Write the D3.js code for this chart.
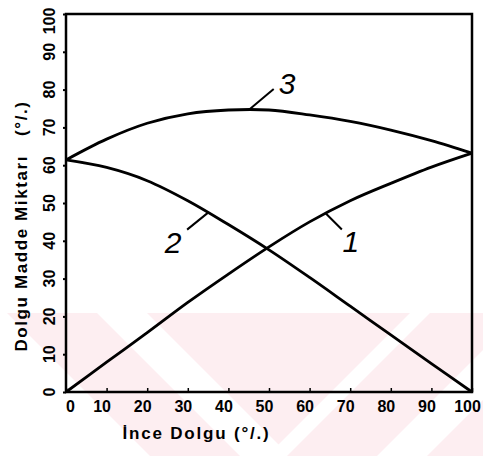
<!DOCTYPE html>
<html><head><meta charset="utf-8">
<script src="https://cdn.jsdelivr.net/npm/d3@7"></script>
<style>html,body{margin:0;padding:0;background:#fff;}svg{display:block}</style>
</head><body><svg id="c" width="483" height="456"></svg>
<script>
// ---- data ----
const xValues = [0,10,20,30,40,50,60,70,80,90,100];
const series1 = [0,7.9,15.7,23.7,31.2,38.4,45.0,50.6,55.2,59.5,63.2];
const series2 = [61.4,59.4,55.9,50.6,44.3,37.6,30.3,22.7,15.1,7.5,0];
const series3 = [61.4,66.9,71.1,73.6,74.6,74.6,73.3,71.6,69.3,66.5,63.2];
const seriesNames = ["1","2","3"];
const labelAtX = [64,35,45];
const xTicks = [0,10,20,30,40,50,60,70,80,90,100];
const yTicks = [0,10,20,30,40,50,60,70,80,90,100];
const xTitle = "İnce Dolgu (°/.)";
const yTitle = "Dolgu Madde Miktarı   (°/.)";

// ---- layout ----
const W = 483, H = 456;
const m = {l:66, r:11, t:14, b:64};
const svg = d3.select("#c");
const x = d3.scaleLinear().domain([0,100]).range([m.l, W-m.r]);
const y = d3.scaleLinear().domain([0,100]).range([H-m.b, m.t]);
const font = "'Liberation Sans', Arial, sans-serif";

// faint watermark background
const wm = "#fdeef1";
const y0 = 313, y1 = H, h = y1 - y0;
const polys = [
  [[7,y0],[97,y0],[97+h,y1],[7+h,y1]],
  [[147,y0],[410,y0],[278.5,y0+131.5]],
  [[430,y0],[520,y0],[520-h,y1],[430-h,y1]],
  [[570,y0],[660,y0],[660-h,y1],[570-h,y1]]
];
svg.append("g").selectAll("polygon").data(polys).join("polygon")
  .attr("points", d => d.map(p => p.join(",")).join(" "))
  .attr("fill", wm);

// frame
const frame = svg.append("g").attr("stroke","#000").attr("stroke-width",2.5).attr("fill","none");
frame.append("rect").attr("x",x(0)).attr("y",y(100)).attr("width",x(100)-x(0)).attr("height",y(0)-y(100));

// x axis ticks + labels
const gx = svg.append("g").attr("transform",`translate(0,${y(0)})`)
  .call(d3.axisBottom(x).tickValues(xTicks).tickSizeInner(-4).tickSizeOuter(0).tickPadding(9));
gx.select(".domain").remove();
gx.selectAll(".tick line").attr("stroke","#000").attr("stroke-width",1.5);
gx.selectAll(".tick text").attr("font-family",font).attr("font-weight","bold").attr("font-size",16)
  .attr("fill","#000").attr("dx", d => d===0 ? 4 : -5);

// y axis ticks
const gy = svg.append("g").attr("transform",`translate(${x(0)},0)`)
  .call(d3.axisLeft(y).tickValues(yTicks).tickSizeInner(3).tickSizeOuter(0).tickFormat(""));
gy.select(".domain").remove();
gy.selectAll(".tick line").attr("stroke","#000").attr("stroke-width",2);

// y tick labels (rotated)
svg.append("g").selectAll("text").data(yTicks).join("text")
  .attr("transform", d => `translate(49,${Math.max(y(d),21)}) rotate(-90)`)
  .attr("text-anchor","middle").attr("dy","0.36em")
  .attr("font-family",font).attr("font-weight","bold").attr("font-size",16)
  .text(d => d);

// titles
svg.append("text").attr("x",196.5).attr("y",439).attr("text-anchor","middle")
  .attr("font-family",font).attr("font-weight","bold").attr("font-size",17)
  .attr("letter-spacing",1.8).text(xTitle);
svg.append("text").attr("transform",`translate(21,226) rotate(-90)`)
  .attr("text-anchor","middle").attr("dy","0.36em").style("white-space","pre")
  .attr("font-family",font).attr("font-weight","bold").attr("font-size",17)
  .attr("letter-spacing",1.6).text(yTitle);

// curves
const allSeries = [series1, series2, series3];
const line = d3.line().x((d,i) => x(xValues[i])).y(d => y(d)).curve(d3.curveCatmullRom.alpha(0.5));
svg.append("g").selectAll("path").data(allSeries).join("path")
  .attr("d", d => line(d)).attr("fill","none").attr("stroke","#000")
  .attr("stroke-width",2.8).attr("stroke-linejoin","round");

// labels with leader lines
const leaders = [
  {dx:16, dy:16, tx:25, ty:28},
  {dx:-21, dy:17, tx:-35, ty:30},
  {dx:25, dy:-21, tx:38.5, ty:-26.5}
];
const valAt = (s, xv) => {
  const i = Math.min(Math.floor(xv/10), xValues.length-2);
  const t = (xv - xValues[i]) / (xValues[i+1]-xValues[i]);
  return s[i] + t*(s[i+1]-s[i]);
};
const ann = svg.append("g");
seriesNames.forEach((name, k) => {
  const px = x(labelAtX[k]), py = y(valAt(allSeries[k], labelAtX[k]));
  const L = leaders[k];
  ann.append("line").attr("x1",px).attr("y1",py).attr("x2",px+L.dx).attr("y2",py+L.dy)
    .attr("stroke","#000").attr("stroke-width",2);
  ann.append("text").attr("x",px+L.tx).attr("y",py+L.ty).attr("dy","0.36em")
    .attr("text-anchor","middle").attr("font-family",font).attr("font-style","italic")
    .attr("font-size",30).text(name);
});
</script></body></html>
